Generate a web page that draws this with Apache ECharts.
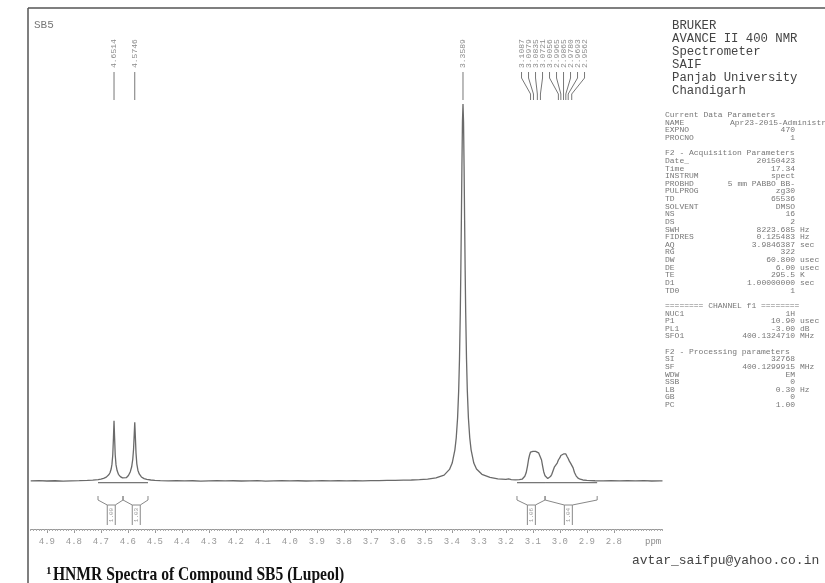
<!DOCTYPE html>
<html><head><meta charset="utf-8">
<script src="https://cdn.jsdelivr.net/npm/echarts@6/dist/echarts.min.js"></script>
<style>html,body{margin:0;padding:0;background:#fff}#c{width:825px;height:583px}</style>
</head><body><div id="c"></div>
<script>
// ---- data ----
const spectrumPpm = [4.96,4.93,4.90,4.87,4.84,4.81,4.78,4.75,4.73,4.71,4.70,4.69,4.68,4.675,4.67,4.666,4.662,4.659,4.656,4.6535,4.6514,4.6493,4.647,4.644,4.640,4.635,4.628,4.620,4.613,4.606,4.598,4.591,4.586,4.582,4.579,4.5765,4.5746,4.5725,4.570,4.567,4.563,4.558,4.550,4.540,4.530,4.515,4.50,4.48,4.45,4.42,4.39,4.36,4.33,4.30,4.27,4.24,4.21,4.18,4.15,4.12,4.09,4.06,4.03,4.00,3.97,3.94,3.91,3.88,3.85,3.82,3.79,3.76,3.73,3.70,3.67,3.64,3.61,3.58,3.55,3.52,3.49,3.4589,3.4289,3.4089,3.3989,3.3889,3.3839,3.3789,3.3749,3.3719,3.3689,3.3669,3.3649,3.3629,3.3609,3.3589,3.3569,3.3549,3.3529,3.3509,3.3489,3.3459,3.3429,3.3389,3.3339,3.3289,3.3189,3.3089,3.2889,3.2589,3.23,3.20,3.19,3.18,3.165,3.15,3.14,3.135,3.13,3.125,3.12,3.116,3.112,3.1087,3.105,3.10,3.0979,3.094,3.09,3.0835,3.079,3.0755,3.0721,3.068,3.064,3.06,3.055,3.05,3.045,3.04,3.035,3.03,3.025,3.02,3.015,3.01,3.0056,3.00,2.9965,2.992,2.9865,2.982,2.978,2.974,2.9693,2.965,2.96,2.9562,2.951,2.946,2.94,2.933,2.925,2.915,2.90,2.87,2.84,2.81,2.78,2.75,2.72,2.69,2.66,2.63,2.62];
const spectrumInt = [0.05,0.12,0.03,0.10,0.00,0.08,0.12,0.18,0.25,0.40,0.55,0.75,1.05,1.3,1.75,2.3,3.2,4.5,7.0,11.5,16.0,11.6,7.0,4.3,2.8,1.8,1.2,0.85,0.75,0.9,1.5,2.5,3.8,5.8,8.5,12.5,15.6,12.0,7.5,4.6,2.9,1.9,1.1,0.65,0.45,0.3,0.2,0.12,0.05,0.12,0.04,0.10,0.02,0.09,0.13,0.05,0.10,0.03,0.09,0.12,0.02,0.07,0.11,0.05,0.10,0.03,0.08,0.12,0.06,0.10,0.04,0.11,0.08,0.14,0.12,0.18,0.20,0.25,0.30,0.40,0.55,0.85,1.6,3.1,4.8,8.3,11.5,16.8,24.0,32.4,44.7,55.9,69.2,83.5,95.3,100,95.3,83.5,69.2,55.9,44.7,32.4,24.0,16.8,11.5,8.3,4.8,3.2,1.8,1.0,0.6,0.45,0.6,0.4,0.35,0.4,0.5,0.8,1.3,2.2,4.0,5.8,7.0,7.7,7.4,7.9,8.3,7.8,7.9,8.2,7.5,7.2,7.0,5.6,4.0,2.5,1.4,0.9,0.7,0.8,1.2,1.8,2.8,3.8,4.3,4.8,5.6,6.2,6.8,6.9,7.2,7.0,7.2,6.6,6.0,5.3,4.7,4.4,3.5,2.3,1.4,0.8,0.5,0.3,0.2,0.1,0.05,0.12,0.04,0.10,0.06,0.11,0.03,0.08,0.06];
const tickLabels = [4.9,4.8,4.7,4.6,4.5,4.4,4.3,4.2,4.1,4.0,3.9,3.8,3.7,3.6,3.5,3.4,3.3,3.2,3.1,3.0,2.9,2.8];
const peakGroups = [[4.6514],[4.5746],[3.3589],[3.1087,3.0979,3.0835,3.0721,3.0056,2.9965,2.9865,2.9780,2.9693,2.9562]];
const integralRegions = [[4.7107,4.6181],[4.6181,4.5256],[3.159,3.055],[3.055,2.862]];
const integralValues = ["1.00","1.03","1.06","1.04"];
const headerLines = ["BRUKER","AVANCE II 400 NMR","Spectrometer","SAIF","Panjab University","Chandigarh"];
const paramLines = [
 ["Current Data Parameters"],["NAME","Apr23-2015-Administrator",""],["EXPNO","470",""],["PROCNO","1",""],null,
 ["F2 - Acquisition Parameters"],["Date_","20150423",""],["Time","17.34",""],["INSTRUM","spect",""],["PROBHD","5 mm PABBO BB-",""],
 ["PULPROG","zg30",""],["TD","65536",""],["SOLVENT","DMSO",""],["NS","16",""],["DS","2",""],["SWH","8223.685","Hz"],
 ["FIDRES","0.125483","Hz"],["AQ","3.9846387","sec"],["RG","322",""],["DW","60.800","usec"],["DE","6.00","usec"],
 ["TE","295.5","K"],["D1","1.00000000","sec"],["TD0","1",""],null,
 ["======== CHANNEL f1 ========"],["NUC1","1H",""],["P1","10.90","usec"],["PL1","-3.00","dB"],["SFO1","400.1324710","MHz"],null,
 ["F2 - Processing parameters"],["SI","32768",""],["SF","400.1299915","MHz"],["WDW","EM",""],["SSB","0",""],["LB","0.30","Hz"],["GB","0",""],["PC","1.00",""]
];

// ---- layout ----
const X_MIN = 2.62, X_MAX = 4.96;
const MONO = '"Liberation Mono","DejaVu Sans Mono",monospace';
const GRAY = '#8a8a8a';
const minorTicks = [];
for (let i = Math.ceil(X_MIN*100); i <= Math.floor(X_MAX*100); i++) minorTicks.push(i/100);

const chart = echarts.init(document.getElementById('c'), null, {renderer:'canvas'});

function renderPeaks(params, api){
  const g = peakGroups[params.dataIndex];
  const xs = g.map(p => api.coord([p,0])[0]);
  const n = g.length, gap = 7;
  let lx = xs.slice();
  if (n > 1){ const m = xs.reduce((a,b)=>a+b,0)/n; lx = xs.map((_,i)=> m + (i-(n-1)/2)*gap); }
  const ch = [];
  for (let i=0;i<n;i++){
    ch.push({type:'text', x: lx[i], y: 68, rotation: Math.PI/2,
      style:{text: g[i].toFixed(4), fill:GRAY, font:'8px '+MONO, align:'left', verticalAlign:'middle'}});
    const pts = n===1 ? [[xs[i],72],[xs[i],100]] : [[lx[i],72],[lx[i],78],[xs[i],94],[xs[i],100]];
    ch.push({type:'polyline', shape:{points:pts}, style:{stroke:'#777', lineWidth:1, fill:null}});
  }
  return {type:'group', children:ch};
}
function renderIntegrals(params, api){
  const r = integralRegions[params.dataIndex];
  const xa = api.coord([r[0],0])[0], xb = api.coord([r[1],0])[0];
  const yb = api.coord([r[0],-0.4])[1];
  const w = xb - xa, v1 = xa + 0.37*w, v2 = v1 + 8;
  const st = {stroke:'#888', lineWidth:1, fill:null};
  return {type:'group', children:[
    {type:'line', shape:{x1:xa,y1:yb,x2:xb,y2:yb}, style:{stroke:'#777', lineWidth:1.3}},
    {type:'polyline', shape:{points:[[xa,496],[xa,500],[v1,505],[v2,505],[xb,500],[xb,496]]}, style:st},
    {type:'line', shape:{x1:v1,y1:505,x2:v1,y2:525}, style:st},
    {type:'line', shape:{x1:v2,y1:505,x2:v2,y2:525}, style:st},
    {type:'text', x:(v1+v2)/2, y:515, rotation:Math.PI/2,
      style:{text:integralValues[params.dataIndex], fill:'#999', font:'6px '+MONO, align:'center', verticalAlign:'middle'}}
  ]};
}

const graphics = [
  {type:'line', shape:{x1:28,y1:8,x2:825,y2:8}, style:{stroke:'#555', lineWidth:1.5}},
  {type:'line', shape:{x1:28,y1:8,x2:28,y2:583}, style:{stroke:'#555', lineWidth:1.5}},
  {type:'text', x:34, y:25, style:{text:'SB5', fill:'#777', font:'11px '+MONO, verticalAlign:'middle'}},
  {type:'text', x:632, y:561, style:{text:'avtar_saifpu@yahoo.co.in', fill:'#444', font:'13px '+MONO, verticalAlign:'middle'}},
  {type:'text', x:645, y:542, style:{text:'ppm', fill:GRAY, font:'9px '+MONO, verticalAlign:'middle'}},
  {type:'text', x:46, y:566, style:{text:'1', fill:'#111', font:'bold 11px "Liberation Serif"', verticalAlign:'top'}},
  {type:'text', x:53, y:566, scaleX:0.82, style:{text:'HNMR Spectra of Compound SB5 (Lupeol)', fill:'#111', font:'bold 19px "Liberation Serif"', verticalAlign:'top'}}
];
headerLines.forEach((t,i)=> graphics.push({type:'text', x:672, y:26+i*13, style:{text:t, fill:'#444', font:'12.3px '+MONO, verticalAlign:'middle'}}));
paramLines.forEach((p,i)=>{
  if (!p) return;
  const y = 115 + i*7.63, f = '8px '+MONO, fill='#777';
  if (p.length === 1){ graphics.push({type:'text', x:665, y, style:{text:p[0], fill, font:f, verticalAlign:'middle'}}); return; }
  graphics.push({type:'text', x:665, y, style:{text:p[0], fill, font:f, verticalAlign:'middle'}});
  if (p[1].length > 15) graphics.push({type:'text', x:730, y, style:{text:p[1], fill, font:f, verticalAlign:'middle'}});
  else graphics.push({type:'text', x:795, y, style:{text:p[1], fill, font:f, align:'right', verticalAlign:'middle'}});
  if (p[2]) graphics.push({type:'text', x:800, y, style:{text:p[2], fill, font:f, verticalAlign:'middle'}});
});

chart.setOption({
  animation:false,
  backgroundColor:'#fff',
  grid:{left:30.7, right:162.5, top:104, bottom:100, containLabel:false},
  xAxis:[
    {type:'value', inverse:true, min:X_MIN, max:X_MAX, position:'bottom', offset:46,
     axisLine:{show:true, onZero:false, lineStyle:{color:'#999', width:1}},
     axisTick:{show:true, customValues:tickLabels, length:4, lineStyle:{color:'#999'}},
     axisLabel:{customValues:tickLabels, formatter:v=>Number(v).toFixed(1), color:'#999', fontFamily:MONO, fontSize:9, margin:8},
     splitLine:{show:false}},
    {type:'value', inverse:true, min:X_MIN, max:X_MAX, position:'bottom', offset:46,
     axisLine:{show:false, onZero:false}, axisTick:{show:true, customValues:minorTicks, length:2, lineStyle:{color:'#aaa'}},
     axisLabel:{show:false}, splitLine:{show:false}}
  ],
  yAxis:{type:'value', min:-0.5, max:100, show:false},
  series:[
    {type:'line', data:spectrumPpm.map((p,i)=>[p, spectrumInt[i]]), showSymbol:false, symbol:'none',
     lineStyle:{color:'#6a6a6a', width:1.3}, clip:false, silent:true},
    {type:'custom', data:peakGroups.map(g=>[g[0],0]), renderItem:renderPeaks, silent:true, clip:false},
    {type:'custom', data:integralRegions.map(r=>[r[0],0]), renderItem:renderIntegrals, silent:true, clip:false}
  ],
  graphic:graphics
});
</script>
</body></html>
